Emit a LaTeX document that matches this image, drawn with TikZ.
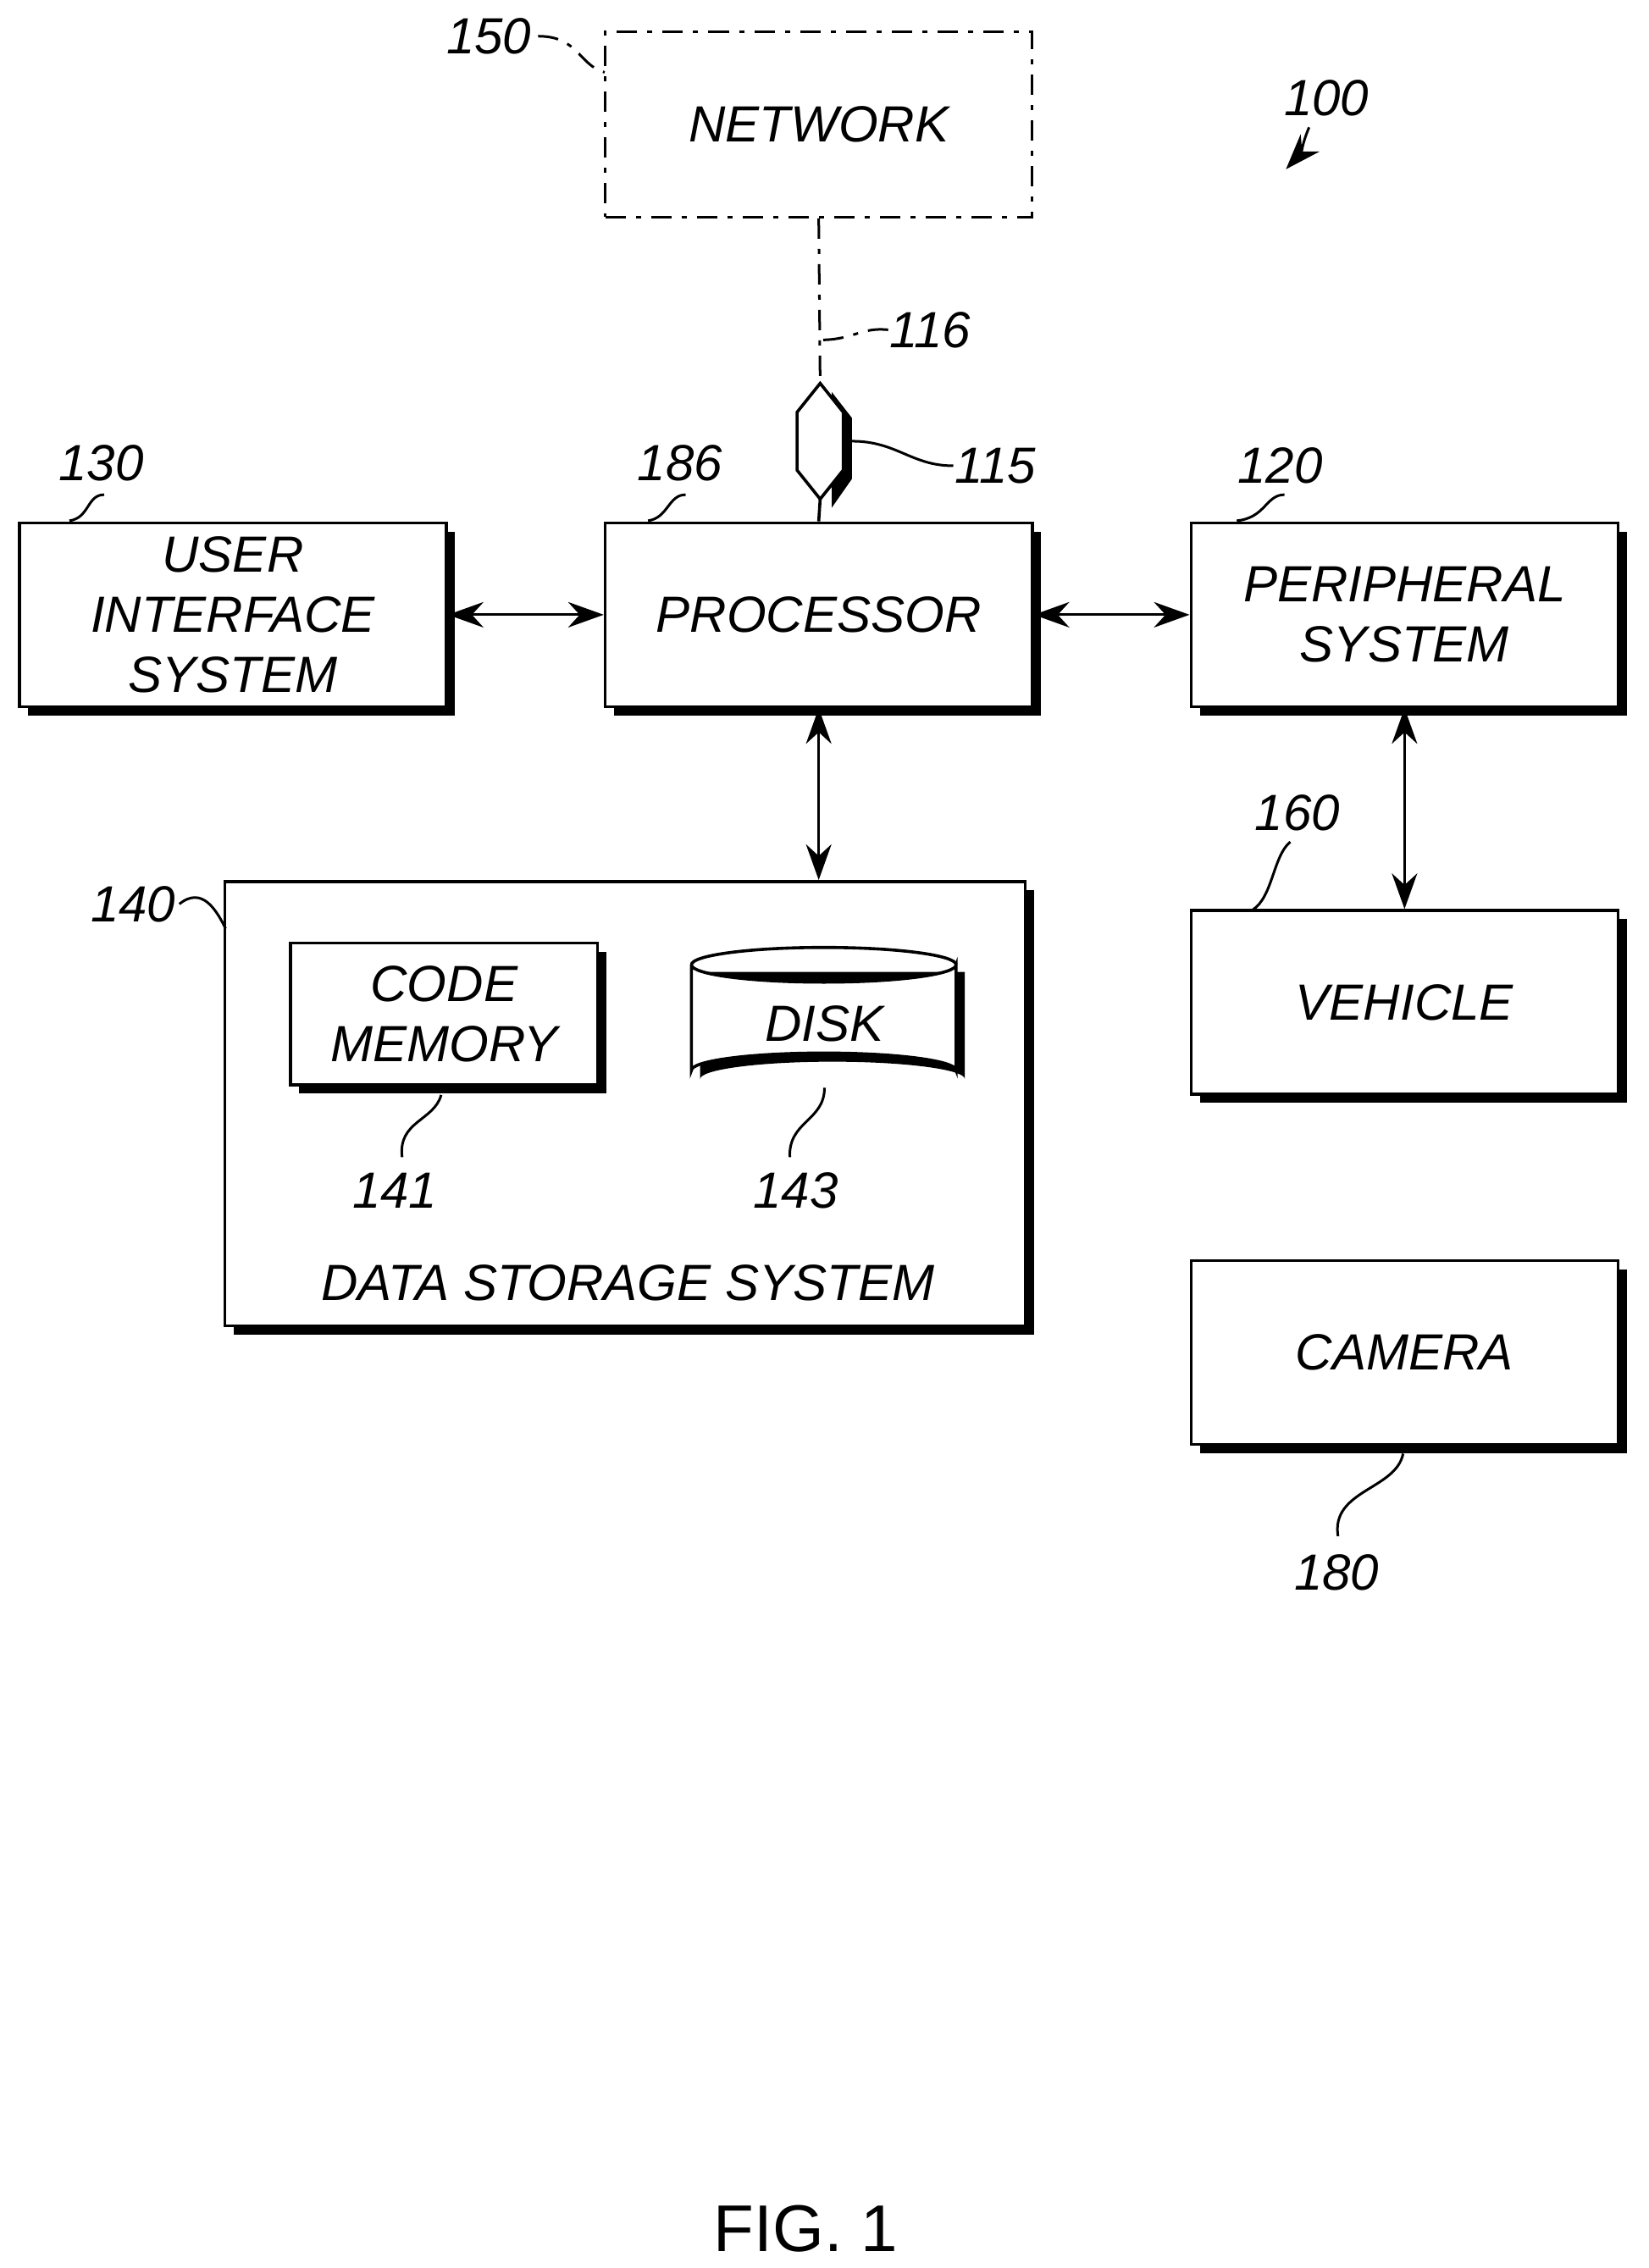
\documentclass[tikz,border=0pt]{standalone}
\usepackage{fontspec}
\setmainfont{Liberation Sans}
\usetikzlibrary{shadows,arrows.meta,shapes.geometric}
\begin{document}
\begin{tikzpicture}[x=0.01cm,y=-0.01cm,
  font=\fontsize{10}{11.8}\selectfont\itshape,
  sh/.style={drop shadow={shadow xshift=0.06cm,shadow yshift=-0.06cm,opacity=1,fill=black}},
  box/.style={draw,line width=0.6pt,fill=white,sh,align=center,inner sep=0pt,minimum width=2.95cm,minimum height=1.27cm},
  lead/.style={line width=0.5pt},
  dd/.style={line width=0.5pt,dash pattern=on 4pt off 2pt on 1pt off 2pt},
  arr/.style={line width=0.5pt,{Stealth[length=7pt,width=5pt]}-{Stealth[length=7pt,width=5pt]}},
  lab/.style={font=\fontsize{10}{12}\selectfont\itshape,inner sep=1pt}]
\useasboundingbox (0,0) rectangle (1140,1568);
% network
\node[draw,dd,minimum width=2.95cm,minimum height=1.28cm] (net) at (566,86) {NETWORK};
\node[box] (proc) at (566,425) {PROCESSOR};
\node[box] (ui) at (161,425) {USER\\INTERFACE\\SYSTEM};
\node[box] (per) at (971,425) {PERIPHERAL\\SYSTEM};
\node[box,minimum width=5.53cm,minimum height=3.07cm] (ds) at (432,763) {};
\node at (434,887) (dsl) {DATA STORAGE SYSTEM};
\node[box,minimum width=2.12cm,minimum height=0.98cm] (code) at (307,701) {CODE\\MEMORY};
\node[box] (veh) at (971,693) {VEHICLE};
\node[box] (cam) at (971,935) {CAMERA};
% disk
\fill[black] (484,672) -- (484,746) arc[start angle=180,end angle=360,x radius=91.5,y radius=12] -- (667,672) -- cycle;
\draw[fill=white,line width=0.6pt] (478,667) -- (478,740) arc[start angle=180,end angle=360,x radius=91.5,y radius=12] -- (661,667) arc[start angle=0,end angle=180,x radius=91.5,y radius=12];
\draw[line width=0.6pt] (478,667) arc[start angle=180,end angle=360,x radius=91.5,y radius=12];
\node (disk) at (570,708) {DISK};
% connector 115
\coordinate (hb) at (567,345);
\coordinate (ht) at (567,265);
\fill[black] (575,271) -- (589,289) -- (589,331) -- (575,351) -- cycle;
\draw[fill=white,line width=0.6pt] (567,265) -- (583,285) -- (583,325) -- (567,345) -- (551,325) -- (551,285) -- cycle;
\draw[dd] (net.south) -- (ht);
\draw[line width=0.6pt] (hb) -- (proc.north);
% arrows
\draw[arr] (ui.east) -- (proc.west);
\draw[arr] (proc.east) -- (per.west);
\draw[arr] (proc.south) -- (ds.north -| proc.south);
\draw[arr] (per.south) -- (veh.north);
% labels
\node[lab] (l150) at (338,25) {150};
\draw[dd] (372,25) .. controls (400,25) and (400,45) .. (418,50);
\node[lab] (l100) at (917,68) {100};
\draw[lead,-{Stealth[length=7pt,width=5pt]}] (905,88) .. controls (900,100) and (900,105) .. (889,117);
\node[lab] (l116) at (643,228) {116};
\draw[dd] (614,228) .. controls (595,226) and (590,235) .. (567,235);
\node[lab] (l115) at (688,322) {115};
\draw[lead] (659,322) .. controls (630,322) and (620,305) .. (589,305);
\node[lab] (l130) at (70,320) {130};
\draw[lead] (72,342) .. controls (60,342) and (62,358) .. (48,360);
\node[lab] (l186) at (470,320) {186};
\draw[lead] (474,342) .. controls (462,342) and (462,358) .. (448,360);
\node[lab] (l120) at (885,322) {120};
\draw[lead] (888,342) .. controls (875,342) and (875,358) .. (855,360);
\node[lab] (l160) at (897,562) {160};
\draw[lead] (892,582) .. controls (880,592) and (880,620) .. (866,629);
\node[lab] (l140) at (92,625) {140};
\draw[lead] (124,625) .. controls (140,612) and (150,630) .. (156,642);
\node[lab] (l141) at (273,823) {141};
\draw[lead] (278,800) .. controls (275,775) and (300,775) .. (305,757);
\node[lab] (l143) at (550,823) {143};
\draw[lead] (546,800) .. controls (545,775) and (570,775) .. (570,752);
\node[lab] (l180) at (924,1087) {180};
\draw[lead] (925,1062) .. controls (920,1030) and (965,1030) .. (970,1005);
\node[font=\fontsize{13}{15}\selectfont] (fig) at (557,1541) {FIG. 1};
\end{tikzpicture}
\end{document}
